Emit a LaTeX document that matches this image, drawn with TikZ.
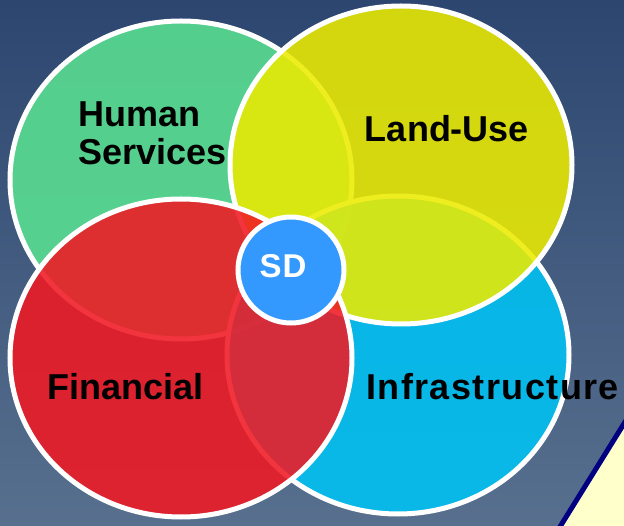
\documentclass[tikz,border=0pt]{standalone}
\usepackage{fontspec}
\setmainfont{Liberation Sans}
\usetikzlibrary{shapes.geometric}
\definecolor{bgtop}{RGB}{44,70,112}
\definecolor{bgbot}{RGB}{88,112,142}
\definecolor{cgreen}{RGB}{90,225,145}
\definecolor{cyellow}{RGB}{235,235,0}
\definecolor{cred}{RGB}{240,25,35}
\definecolor{ccyan}{RGB}{0,195,245}
\definecolor{csd}{RGB}{51,153,255}
\definecolor{pale}{RGB}{255,255,204}
\definecolor{navyb}{RGB}{0,0,128}
\tikzset{
  bubble/.style={ellipse, draw=white, line width=5pt, inner sep=0pt,
    minimum width=342pt, minimum height=318pt, fill opacity=0.88},
  label/.style={font=\fontsize{36}{38}\selectfont\bfseries, text=black, inner sep=0pt},
}
\begin{document}
\begin{tikzpicture}[x=1pt,y=-1pt]
\useasboundingbox (0,0) rectangle (624,526);
\clip (0,0) rectangle (624,526);
\shade[top color=bgtop, bottom color=bgbot] (0,0) rectangle (624,526);
\node[bubble, fill=cgreen] (hs) at (181,180) {};
\node[bubble, fill=ccyan] (inf) at (398,355) {};
\node[bubble, fill=cyellow] (lu) at (401,165) {};
\node[bubble, fill=cred] (fin) at (181,358) {};
\node[circle, draw=white, line width=5pt, fill=csd, minimum size=106pt, inner sep=0pt] (sd) at (291,270) {};
\node[text=white, inner sep=0pt, anchor=base, font=\fontsize{33}{35}\selectfont\bfseries\addfontfeature{LetterSpace=3}] (sdt) at (283,278) {SD};
\node[label, align=left, anchor=base west] (hst) at (78,165) {Human\\Services};
\node[label, anchor=base] (lut) at (447,142) {Land-Use};
\node[label, anchor=base west] (fint) at (47,400) {Financial};
\node[label, anchor=base west, font=\fontsize{36}{38}\selectfont\bfseries\addfontfeature{LetterSpace=4}] (inft) at (366,400) {Infrastructure};
\draw[draw=navyb, fill=pale, line width=5pt] (558,530) -- (625,422) -- (640,422) -- (640,540) -- cycle;
\end{tikzpicture}
\end{document}
